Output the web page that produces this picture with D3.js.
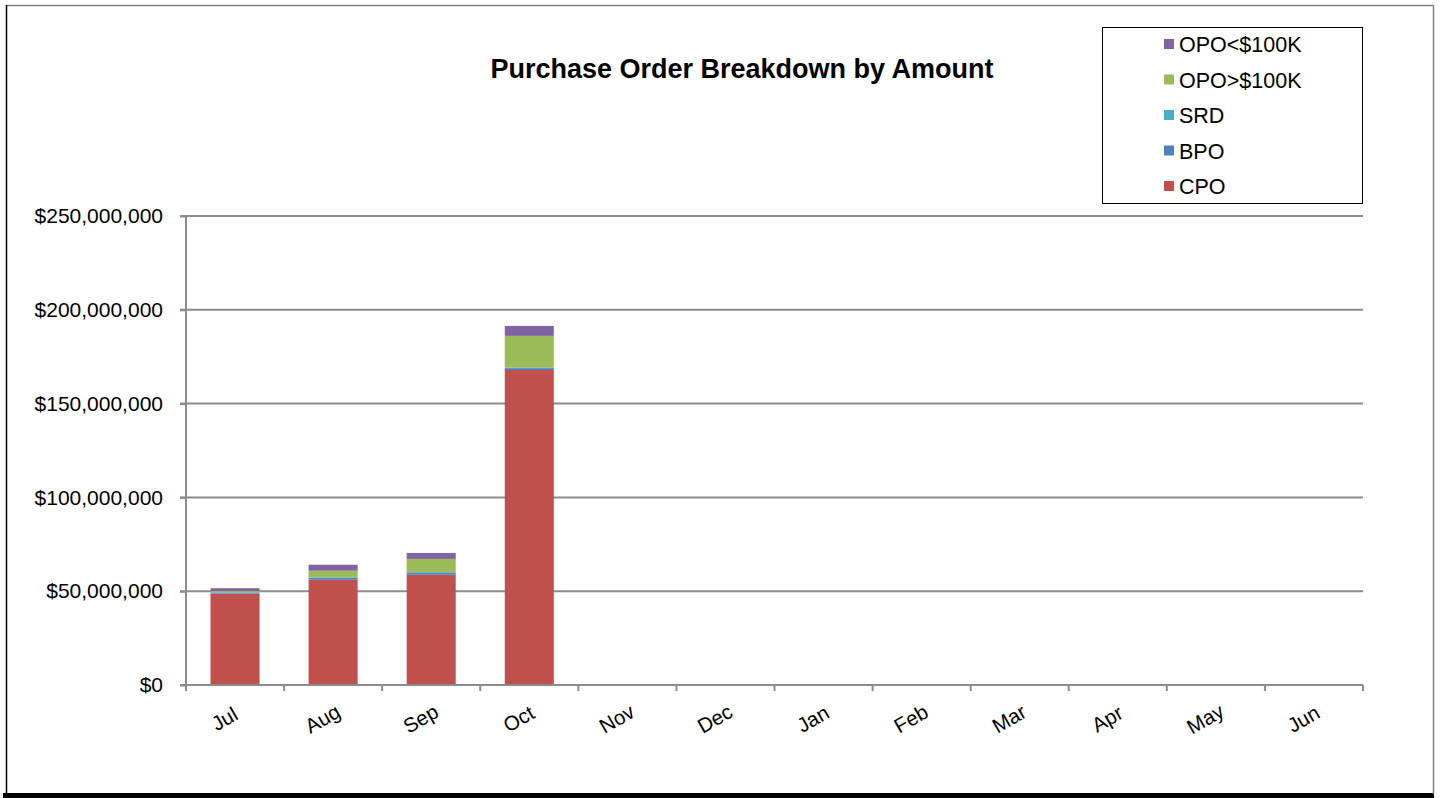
<!DOCTYPE html>
<html><head><meta charset="utf-8">
<script src="https://cdn.jsdelivr.net/npm/d3@7"></script>
<style>body{margin:0;background:#fff;}svg{display:block;font-family:Arial,"Liberation Sans",sans-serif;}</style>
</head><body>
<svg id="c" width="1440" height="798"></svg>
<script>
const months = ["Jul","Aug","Sep","Oct","Nov","Dec","Jan","Feb","Mar","Apr","May","Jun"];
const seriesNames = ["CPO","BPO","SRD","OPO>$100K","OPO<$100K"];
const seriesColors = ["#c0504d","#4f81bd","#4bacc6","#9bbb59","#8064a2"];
const cpo      = [48.7e6, 56.1e6, 58.8e6, 167.9e6, 0,0,0,0,0,0,0,0];
const bpo      = [0.4e6, 1.0e6, 1.0e6, 1.0e6, 0,0,0,0,0,0,0,0];
const srd      = [0.3e6, 0.3e6, 0.4e6, 0.3e6, 0,0,0,0,0,0,0,0];
const opoOver  = [0.7e6, 3.5e6, 7.0e6, 16.9e6, 0,0,0,0,0,0,0,0];
const opoUnder = [1.5e6, 3.2e6, 3.2e6, 5.3e6, 0,0,0,0,0,0,0,0];
const yTicks = [0, 50e6, 100e6, 150e6, 200e6, 250e6];

const svg = d3.select("#c");
// outer frame
svg.append("rect").attr("x",3).attr("y",793).attr("width",1431).attr("height",5).attr("fill","#000");
svg.append("line").attr("x1",6).attr("x2",1433).attr("y1",5.5).attr("y2",5.5).attr("stroke","#808080").attr("stroke-width",1.5);
svg.append("line").attr("x1",1433.5).attr("x2",1433.5).attr("y1",5).attr("y2",794).attr("stroke","#808080").attr("stroke-width",1.5);
svg.append("line").attr("x1",6.5).attr("x2",6.5).attr("y1",5).attr("y2",794).attr("stroke","#000").attr("stroke-width",1.5);

const L=186, R=1363, T=216, B=685;
const x = d3.scaleBand().domain(months).range([L,R]).paddingInner(0.5).paddingOuter(0.25);
const xb = d3.scaleBand().domain(months).range([L,R]);
const y = d3.scaleLinear().domain([0,250e6]).range([B,T]);

// gridlines
svg.append("g").selectAll("line").data(yTicks.filter(d=>d>0)).join("line")
  .attr("x1",180).attr("x2",R).attr("y1",d=>y(d)).attr("y2",d=>y(d))
  .attr("stroke","#8c8c8c").attr("stroke-width",2);

// stacked bars
const rows = months.map((m,i)=>({month:m,"CPO":cpo[i],"BPO":bpo[i],"SRD":srd[i],"OPO>$100K":opoOver[i],"OPO<$100K":opoUnder[i]}));
const stack = d3.stack().keys(seriesNames)(rows);
svg.append("g").selectAll("g").data(stack).join("g").attr("fill",(d,i)=>seriesColors[i])
  .selectAll("rect").data(d=>d.filter(p=>p[1]-p[0]>0)).join("rect")
  .attr("x",d=>x(d.data.month)).attr("width",x.bandwidth())
  .attr("y",d=>y(d[1])).attr("height",d=>y(d[0])-y(d[1]));

// y axis
const yAxis = svg.append("g").attr("transform",`translate(${L},0)`)
  .call(d3.axisLeft(y).tickValues(yTicks).tickSize(6).tickFormat(d=>"$"+d3.format(",")(d)));
yAxis.select(".domain").attr("stroke","#8c8c8c").attr("stroke-width",2).attr("d",`M0,${T}V${B}`);
yAxis.selectAll(".tick line").attr("stroke","#8c8c8c").attr("stroke-width",2);
yAxis.selectAll(".tick text").attr("font-size",21).attr("fill","#000").attr("x",-23).attr("font-family","Arial,'Liberation Sans',sans-serif");

// x axis
svg.append("line").attr("x1",180).attr("x2",R).attr("y1",B).attr("y2",B).attr("stroke","#8c8c8c").attr("stroke-width",2);
const bounds = months.map(m=>xb(m)).concat([R]);
svg.append("g").selectAll("line").data(bounds).join("line")
  .attr("x1",d=>d).attr("x2",d=>d).attr("y1",B).attr("y2",B+6).attr("stroke","#8c8c8c").attr("stroke-width",2);
svg.append("g").selectAll("text").data(months).join("text")
  .attr("transform",d=>`translate(${xb(d)+xb.bandwidth()/2-7},${B+40}) rotate(-30)`)
  .attr("text-anchor","middle").attr("font-size",20.5).attr("fill","#000").text(d=>d);

// title
svg.append("text").attr("x",742).attr("y",78).attr("text-anchor","middle")
  .attr("font-size",27).attr("font-weight","bold").text("Purchase Order Breakdown by Amount");

// legend
svg.append("rect").attr("x",1102.5).attr("y",27.5).attr("width",260).attr("height",176)
  .attr("fill","#fff").attr("stroke","#000").attr("stroke-width",1);
const legendOrder = seriesNames.map((n,i)=>({n,c:seriesColors[i]})).reverse();
const lg = svg.append("g").selectAll("g").data(legendOrder).join("g")
  .attr("transform",(d,i)=>`translate(1164,${44+i*35.5})`);
lg.append("rect").attr("x",0).attr("y",-5).attr("width",10).attr("height",10).attr("fill",d=>d.c);
lg.append("text").attr("x",15).attr("y",8).attr("font-size",21.5).text(d=>d.n);
</script>
</body></html>
